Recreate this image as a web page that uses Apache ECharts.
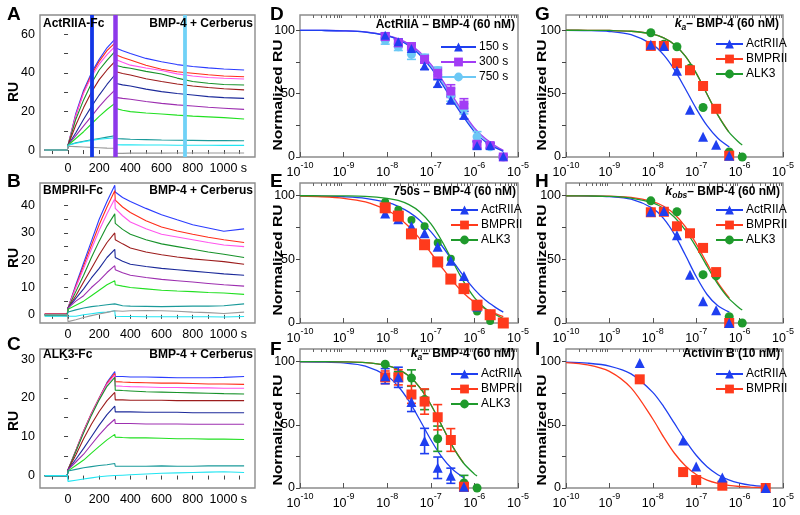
<!DOCTYPE html>
<html><head><meta charset="utf-8">
<script src="https://cdn.jsdelivr.net/npm/echarts@6/dist/echarts.min.js"></script>
<style>html,body{margin:0;padding:0;background:#fff}#c{width:800px;height:515px}</style>
</head><body><div id="c"></div>
<script>
// ================= DATA =================
// Sensorgrams (panels A-C): time (s) and RU per analyte concentration trace
const sensTimes = [-150, -5, 0, 50, 100, 150, 200, 250, 300, 303, 350, 400, 500, 600, 700, 800, 900, 1000, 1130];
const sensColors = ['#2b3cff', '#ff2d1a', '#ff55ee', '#17922a', '#9c1c1c', '#1c2a9a', '#9d2fb0', '#22e022', '#1b9a9a', '#22e5f2', '#9a9a9a'];
const sensA = [
  [0, 0, 2.5, 19, 31, 40, 47, 53, 57.4, 53, 51.5, 50, 47.5, 45.8, 44.3, 43.3, 42.6, 42, 41.5],
  [0, 0, 2.5, 18, 30, 39, 46, 51.5, 55.4, 49.5, 48, 46.7, 44, 41.9, 40.6, 39.8, 39, 38.4, 38],
  [0, 0, 2.5, 18, 29.5, 38, 44.5, 49.5, 53.6, 47, 45.5, 44, 42.5, 41.2, 39.5, 38.4, 37.6, 37.2, 36.8],
  [0, 0, 2.5, 16, 26, 34.5, 41.5, 46.5, 51, 44, 43, 42.4, 40.8, 39.4, 37.3, 35.5, 34.6, 34, 33.7],
  [0, 0, 2.5, 13, 22, 30, 36.5, 41.5, 45.8, 40.7, 39.7, 38.9, 37, 35.5, 34.2, 33.2, 32.4, 31.8, 31.2],
  [0, 0, 2.5, 9, 16, 22.5, 28.5, 34, 38.9, 34.6, 33.8, 33.2, 31.6, 30.3, 29.3, 28.5, 27.7, 27.2, 26.8],
  [0, 0, 2.5, 7.5, 12.5, 17.5, 22.5, 27, 31.1, 27.3, 26.8, 26.3, 25.2, 24.2, 23.4, 22.8, 22.2, 21.7, 21.1],
  [0, 0, 2.5, 6, 9.5, 13.5, 17.5, 21, 24.2, 21.6, 20.6, 19.9, 19.2, 18.7, 18.1, 17.6, 17.2, 16.8, 16.1],
  [0, 0, 2.5, 3.8, 4.6, 5.3, 6, 6.7, 7.4, 6, 5.8, 5.6, 5.4, 5.2, 5.1, 5, 4.9, 4.9, 4.8],
  [0, 0, 2.5, 3.5, 4.3, 5, 5.6, 6, 6.4, 2.8, 2.7, 2.7, 2.6, 2.6, 2.5, 2.5, 2.5, 2.4, 2.4],
  [0, 0, 2, 1.8, 1.6, 1.4, 1.2, 1, 0.9, -1.7, -1.7, -1.6, -1.6, -1.6, -1.5, -1.5, -1.5, -1.5, -1.5]
];
const sensB = [
  [0, -0.3, 2.5, 11, 19, 27, 35, 41.5, 47.5, 45, 43, 41.5, 39, 36.7, 34.8, 33, 31.8, 30.6, 31.5],
  [0.3, 0.3, 2.5, 10.5, 18, 25.5, 33, 39.5, 45.5, 42, 39.5, 37.5, 34.5, 32.2, 30.7, 29.5, 28.4, 27.5, 26.5],
  [0.3, 0.3, 2.5, 10, 17, 24, 31, 37, 42.5, 39, 36.3, 34, 31.5, 29.5, 28.5, 27.5, 26.5, 25.6, 25],
  [-0.3, -0.3, 2.5, 8.5, 14.5, 21, 27, 32.5, 37, 33.5, 31.3, 29.5, 27.5, 26, 25, 24, 23, 22.2, 21],
  [0.3, 0.3, 2.5, 7, 12, 17, 22, 26.5, 30, 27.5, 26, 24.5, 23, 22, 21.2, 20.5, 20, 19.5, 18.5],
  [0, 0, 2.5, 6, 9.5, 13.5, 17, 21, 24, 21, 19.6, 18.5, 17.7, 17, 16.5, 16, 15.5, 15, 14.5],
  [0, 0, 2.5, 5, 7, 10, 12.5, 15.5, 18, 16.5, 15.4, 14.5, 13.7, 13, 12.5, 12, 11.5, 11, 10.5],
  [0, 0, 2, 3.5, 5, 7, 9, 11, 12.5, 11, 10.5, 10, 9.5, 9, 8.7, 8.5, 8.2, 8, 7.5],
  [0, 0, 1, 1.8, 2.5, 3, 3.3, 3.7, 4, 3.5, 3.3, 3.2, 3.1, 3, 3.1, 3.2, 3.2, 3.3, 4],
  [-0.5, -0.5, -1, -0.5, 0, 0.4, 0.8, 1, 1.5, -0.5, -0.6, -0.6, -0.7, -0.7, -0.7, -0.7, -0.7, -0.8, -0.6],
  [0, 0, -2.5, -1.8, -1, -0.3, 0.3, 0.9, 1.5, 1.2, 1.3, 1.5, 1.6, 1.5, 1.3, 1, 0.8, 0.5, 1]
];
const sensC = [
  [0, 0, 1.5, 6.5, 11.5, 16, 20, 24, 26.8, 25.5, 25.5, 25.4, 25.4, 25.3, 25.2, 25.2, 25.2, 25.3, 25.5],
  [0, 0, 1.5, 6.5, 11.5, 16, 20, 23.8, 26.3, 24.2, 24.1, 24, 23.9, 23.8, 23.8, 23.7, 23.6, 23.6, 23.5],
  [0, 0, 1.5, 6.3, 11.3, 15.8, 19.8, 23.5, 25.9, 23.1, 23, 22.9, 22.8, 22.7, 22.7, 22.6, 22.6, 22.5, 22.5],
  [0, 0, 1.5, 6.2, 11, 15.5, 19.5, 23, 25.3, 22, 21.9, 21.8, 21.6, 21.5, 21.4, 21.3, 21.2, 21.1, 21],
  [0, 0, 1.5, 5.3, 9.5, 13.2, 16.5, 19.3, 21.4, 19.5, 19.5, 19.4, 19.4, 19.4, 19.3, 19.3, 19.3, 19.3, 19.3],
  [0, 0, 1.5, 4.2, 7, 10, 13, 15.7, 17.9, 16.4, 16.4, 16.4, 16.3, 16.3, 16.3, 16.2, 16.2, 16.2, 16.2],
  [0, 0, 1.5, 3.5, 5.5, 8, 10.5, 12.7, 14.5, 13.4, 13.4, 13.4, 13.3, 13.3, 13.3, 13.2, 13.2, 13.2, 13.2],
  [0, 0, 1.2, 2.6, 4, 5.8, 7.5, 9.2, 10.6, 9.9, 9.8, 9.7, 9.7, 9.6, 9.5, 9.5, 9.4, 9.4, 9.3],
  [0, 0, 1.2, 1.6, 2, 2.3, 2.6, 2.8, 3.1, 2.4, 2.4, 2.4, 2.4, 2.5, 2.4, 2.4, 2.5, 2.5, 2.5],
  [0, 0, -1.5, -1.2, -0.9, -0.6, -0.3, -0.1, 0, -0.2, 0.1, 0.2, 0.4, 0.6, 0.7, 0.8, 0.9, 1, 0.8]
];
const markTimesA = [150, 300, 750];
const markColorsA = ['#1236e6', '#8d38ea', '#70d2f7'];

// Dose-response (panels D-I): concentrations (M) and normalized RU
const concD = [9e-9, 1.8e-8, 3.6e-8, 7.2e-8, 1.44e-7, 2.88e-7, 5.76e-7, 1.15e-6, 2.3e-6, 4.6e-6];
const D150 = [96, 91, 85.5, 72, 58, 45, 33, 9, 9, 0.5];
const D150err = [2, 2, 3, 3, 3, 3, 3, 3, 2, 1];
const D300 = [95, 90, 87, 77, 66, 52, 41, 10, 9, 0];
const D300err = [2, 3, 3, 3, 4, 5, 5, 3, 2, 1];
const D750 = [92, 87, 81, 78, 68, 49, 38, 16, 8, 0];
const D750err = [3, 3, 4, 3, 3, 5, 4, 4, 2, 1];
const E_act = [86, 81.5, 76, 70.5, 60, 49, 37, 13, 7, 0];
const E_bmp = [90.5, 84, 70, 61.5, 48, 34.5, 27, 14, 6.5, 0];
const E_alk = [95, 89, 81, 76, 63, 50.5, 27, 9, 1.5, 0];
const concFG = [9e-9, 1.8e-8, 3.6e-8, 7.2e-8, 1.44e-7, 2.88e-7, 5.76e-7, 1.15e-6];
const FG_act = [88.5, 87.6, 68, 37.2, 16, 9.7, 1, null];
const FG_actErr = [6, 8, 7.5, 10, 8.5, 6, 2, 0];
const FG_bmp = [87.6, 87.6, 74, 68.4, 56, 38, 1, null];
const FG_bmpErr = [5, 6, 7, 10, 10, 9, 3, 0];
const FG_alk = [98, 89, 87, 70, 39, null, 4, 0];
const FG_alkErr = [0, 3, 6.5, 8, 10, 0, 6, 0];
const H_act = [87.4, 88, 69, 38, 17, 10, 0, null];
const H_bmp = [87, 87.4, 76, 70.5, 59, 40, 0, null];
const H_alk = [96, null, 87.4, null, 38, 37, 5, 0];
const concI = [5e-9, 5e-8, 1e-7, 4e-7, 4e-6];
const I_act = [99, 37.6, 17, 8.4, 0];
const I_bmp = [86, 12.6, 6.3, 1.8, 0];

// Fitted curves, at these concentrations (+ a last end point)
const fitConc = [1e-10, 3.16e-10, 1e-9, 3.16e-9, 1e-8, 1.78e-8, 3.16e-8, 5.62e-8, 1e-7, 1.78e-7, 3.16e-7, 5.62e-7, 1e-6, 1.78e-6, 3.16e-6];
const fitD150 = [99.9, 99.8, 99.5, 98.5, 95.5, 92.5, 87.7, 80.5, 70.5, 58, 44.4, 31.6, 20, 12, 7];
const fitD300 = [99.95, 99.8, 99.55, 98.7, 96, 93.3, 89, 82.6, 73.2, 61.4, 48, 34.9, 23, 14.5, 8.5];
const fitD750 = [99.9, 99.8, 99.5, 98.6, 95.8, 93, 88.4, 81.6, 72, 59.8, 46.3, 33.3, 22, 13.5, 7.8];
const fitDEnd = [[4.6e-6, 4.5], [4.6e-6, 5.2], [4.6e-6, 4.8]];
const fitE_act = [99.9, 99.7, 99.2, 98, 94.7, 91.7, 87.1, 80.6, 71.8, 60.9, 48.9, 37, 26.4, 18, 11.9];
const fitE_bmp = [99.7, 99.2, 98, 95.1, 88.6, 83.1, 75.6, 66.1, 55.2, 43.8, 32.9, 23.6, 16.3, 11, 7.2];
const fitE_alk = [100, 99.96, 99.86, 99.5, 98, 96.3, 93, 87.3, 78, 64.6, 48.5, 32.7, 20, 11.4, 6.3];
const fitEEnd = [[4.6e-6, 8.5], [4.6e-6, 5], [4.6e-6, 3.5]];
const fitFG_act = [99.9, 99.7, 99, 96.5, 88.6, 80.5, 68.7, 53.8, 38.2, 24.7, 14.8];
const fitFG_actEnd = [5.8e-7, 7.9];
const fitFG_bmp = [99.99, 99.95, 99.8, 99.2, 96.9, 93.9, 88.6, 79.5, 66.1, 49.5, 33, 19.8];
const fitFG_alk = [99.99, 99.95, 99.8, 99.2, 96.9, 93.9, 88.6, 79.5, 66.1, 49.5, 33, 19.8, 11];
const fitFG_alkEnd = [1.15e-6, 9.5];
const fitH_act = [99.96, 99.8, 99.3, 97.3, 90.1, 82, 69.6, 53.4, 36.5, 22.4, 13.5];
const fitH_actEnd = [5.8e-7, 8.5];
const fitH_bmp = [99.97, 99.9, 99.6, 98.7, 95.4, 91.7, 85.5, 75.8, 62.4, 46.8, 31.8];
const fitH_bmpEnd = [5.8e-7, 19.5];
const fitH_alk = [99.95, 99.84, 99.5, 98.2, 94.3, 90, 83.1, 72.9, 59.6, 44.6, 30.5, 19.3, 11.6];
const fitH_alkEnd = [1.15e-6, 10.2];
const fitI_act = [99.6, 98.8, 96.5, 90.3, 75.7, 64.4, 51.1, 37.7, 25.9, 16.8, 10.5, 6.4, 3.8, 2.2];
const fitI_bmp = [99.2, 97.4, 92.3, 79.2, 54.6, 40.3, 27.5, 17.6, 10.7, 6.3, 3.7, 2.1, 1.2, 0.7];
const fitIEnd = [[4e-6, 1.0], [4e-6, 0.3]];

const logTickLabels = [-10, -9, -8, -7, -6, -5];

// ================= BUILD =================
const FONT = '"Liberation Sans", Arial, Helvetica, sans-serif';
const BLUE = '#1f3ff0', RED = '#ff3a1c', GREEN = '#1f9a2c', PURPLE = '#a23cf5', LBLUE = '#6cc8f5';
const grids = [
  {left: 40, top: 15, width: 215, height: 142},
  {left: 40, top: 183, width: 215, height: 140},
  {left: 40, top: 349, width: 215, height: 139},
  {left: 300, top: 15, width: 218, height: 142},
  {left: 300, top: 183, width: 218, height: 140},
  {left: 300, top: 349, width: 218, height: 139},
  {left: 566, top: 15, width: 217, height: 142},
  {left: 566, top: 183, width: 217, height: 140},
  {left: 566, top: 349, width: 217, height: 139}
].map(g => Object.assign({show: true, borderColor: '#8c8c8c', borderWidth: 1.4, backgroundColor: 'transparent'}, g));

const L10 = Math.log10;
const minorVals = [];
for (let n = -10; n < -5; n++) for (let k = 2; k <= 9; k++) minorVals.push(n + L10(k));

const xAxes = [], yAxes = [];
const sensRanges = [[-3.6, 70, [0,10,20,30,40,50,60], [0,20,40,60]], [-3, 48.3, [0,5,10,15,20,25,30,35,40,45], [0,10,20,30,40]], [-3.2, 32.6, [0,5,10,15,20,25,30], [0,10,20,30]]];
for (let i = 0; i < 3; i++) {
  xAxes.push({gridIndex: i, type: 'value', min: -180, max: 1200,
    axisLine: {show: false}, splitLine: {show: false},
    axisTick: {show: true, length: 4, customValues: [-100,0,100,200,300,400,500,600,700,800,900,1000,1100], lineStyle: {color: '#444'}},
    axisLabel: {customValues: [0,200,400,600,800,1000], margin: 5, color: '#000', fontSize: 12.5, fontFamily: FONT,
      formatter: v => v === 1000 ? '{e|1000 s}' : String(v), rich: {e: {fontSize: 12.5, fontFamily: FONT, color: '#000', padding: [0,0,0,9]}}}});
  const r = sensRanges[i];
  yAxes.push({gridIndex: i, type: 'value', min: r[0], max: r[1],
    axisLine: {show: false}, splitLine: {show: false},
    axisTick: {show: true, length: 4, customValues: r[2], lineStyle: {color: '#444'}},
    axisLabel: {customValues: r[3], margin: 5, color: '#000', fontSize: 12.5, fontFamily: FONT}});
}
const doseMax = [112, 110, 110, 112, 110, 110];
for (let j = 0; j < 6; j++) {
  const gi = 3 + j;
  xAxes.push({gridIndex: gi, type: 'value', min: -10, max: -5,
    axisLine: {show: false}, splitLine: {show: false},
    axisTick: {show: true, inside: true, length: 5, customValues: logTickLabels, lineStyle: {color: '#555'}},
    axisLabel: {customValues: logTickLabels, margin: 4, color: '#000', fontFamily: FONT,
      formatter: v => '{b|10}{s|' + v + '}',
      rich: {b: {fontSize: 12.5, lineHeight: 18, verticalAlign: 'bottom', fontFamily: FONT, color: '#000'},
             s: {fontSize: 9, lineHeight: 10, verticalAlign: 'top', fontFamily: FONT, color: '#000'}}}});
  yAxes.push({gridIndex: gi, type: 'value', min: 0, max: doseMax[j],
    axisLine: {show: false}, splitLine: {show: false},
    axisTick: {show: true, length: 4, customValues: [0,25,50,75,100], lineStyle: {color: '#444'}},
    axisLabel: {customValues: [0,50,100], margin: 5, color: '#000', fontSize: 12.5, fontFamily: FONT}});
}
for (let j = 0; j < 6; j++) {
  xAxes.push({gridIndex: 3 + j, type: 'value', min: -10, max: -5,
    axisLine: {show: false}, splitLine: {show: false}, axisLabel: {show: false},
    axisTick: {show: true, inside: true, length: 3, customValues: minorVals, lineStyle: {color: '#666'}}});
}

const series = [];
function sensSeries(gi, data) {
  data.forEach((vals, k) => {
    series.push({type: 'line', xAxisIndex: gi, yAxisIndex: gi, showSymbol: false, symbol: 'none', silent: true,
      lineStyle: {width: 1.1, color: sensColors[k]}, data: sensTimes.map((t, i) => [t, vals[i]])});
  });
}
sensSeries(0, sensA); sensSeries(1, sensB); sensSeries(2, sensC);
series[sensA.length - 1].markLine = {
  silent: true, symbol: ['none', 'none'], label: {show: false},
  data: markTimesA.map((t, i) => ({xAxis: t, lineStyle: {color: markColorsA[i], width: i === 1 ? 4.5 : 3.8, type: 'solid', opacity: 1}}))
};

function fitPts(ys, end) {
  const out = ys.map((y, i) => [L10(fitConc[i]), y]);
  if (end) out.push([L10(end[0]), end[1]]);
  return out;
}
function ptsOf(conc, vals) {
  const out = [];
  conc.forEach((c, i) => { if (vals[i] != null) out.push([L10(c), vals[i]]); });
  return out;
}
function addCurve(j, name, color, symbol, ys, end, width) {
  series.push({type: 'line', name: name, xAxisIndex: 3 + j, yAxisIndex: 3 + j, showSymbol: false, symbol: symbol, smooth: 0.3,
    itemStyle: {color: color}, lineStyle: {width: width || 1.3, color: color}, silent: true, data: fitPts(ys, end), z: 3});
}
function addPts(j, color, symbol, size, conc, vals) {
  series.push({type: 'scatter', xAxisIndex: 3 + j, yAxisIndex: 3 + j, symbol: symbol, symbolSize: size, silent: true,
    itemStyle: {color: color, opacity: 1}, data: ptsOf(conc, vals), z: 5});
}
function addErr(j, color, conc, vals, errs) {
  const d = [];
  conc.forEach((c, i) => { if (vals[i] != null && errs[i] > 0) d.push([L10(c), vals[i] - errs[i], vals[i] + errs[i]]); });
  series.push({type: 'custom', xAxisIndex: 3 + j, yAxisIndex: 3 + j, silent: true, z: 4, data: d,
    encode: {x: 0, y: [1, 2]},
    renderItem: (params, api) => {
      const x = api.value(0);
      const p1 = api.coord([x, api.value(1)]), p2 = api.coord([x, api.value(2)]);
      const w = 4.5, st = {stroke: color, lineWidth: 1.6};
      return {type: 'group', children: [
        {type: 'line', shape: {x1: p1[0], y1: p1[1], x2: p2[0], y2: p2[1]}, style: st},
        {type: 'line', shape: {x1: p1[0] - w, y1: p1[1], x2: p1[0] + w, y2: p1[1]}, style: st},
        {type: 'line', shape: {x1: p2[0] - w, y1: p2[1], x2: p2[0] + w, y2: p2[1]}, style: st}
      ]};
    }});
}
// E first so the legend picks up the proper ActRIIA/BMPRII/ALK3 styling
addCurve(1, 'ActRIIA', BLUE, 'triangle', fitE_act, fitEEnd[0]);
addCurve(1, 'BMPRII', RED, 'rect', fitE_bmp, fitEEnd[1]);
addCurve(1, 'ALK3', GREEN, 'circle', fitE_alk, fitEEnd[2]);
addPts(1, GREEN, 'circle', 8, concD, E_alk);
addPts(1, BLUE, 'triangle', 10, concD, E_act);
addPts(1, RED, 'rect', 11, concD, E_bmp);
// D
addCurve(0, '750 s', LBLUE, 'circle', fitD750, fitDEnd[2]);
addCurve(0, '300 s', PURPLE, 'rect', fitD300, fitDEnd[1]);
addCurve(0, '150 s', BLUE, 'triangle', fitD150, fitDEnd[0]);
addErr(0, LBLUE, concD, D750, D750err);
addPts(0, LBLUE, 'circle', 9, concD, D750);
addErr(0, PURPLE, concD, D300, D300err);
addPts(0, PURPLE, 'rect', 9, concD, D300);
addErr(0, BLUE, concD, D150, D150err);
addPts(0, BLUE, 'triangle', 9, concD, D150);
// F (with error bars) and G (same data, no bars)
[2, 3].forEach(j => {
  addCurve(j, 'ActRIIA', BLUE, 'triangle', fitFG_act, fitFG_actEnd);
  addCurve(j, 'BMPRII', RED, 'rect', fitFG_bmp, null);
  addCurve(j, 'ALK3', GREEN, 'circle', fitFG_alk, fitFG_alkEnd);
  if (j === 2) {
    addErr(j, GREEN, concFG, FG_alk, FG_alkErr);
    addErr(j, RED, concFG, FG_bmp, FG_bmpErr);
    addErr(j, BLUE, concFG, FG_act, FG_actErr);
  }
  addPts(j, GREEN, 'circle', 9, concFG, FG_alk);
  addPts(j, RED, 'rect', 10, concFG, FG_bmp);
  addPts(j, BLUE, 'triangle', 10, concFG, FG_act);
});
// H
addCurve(4, 'ActRIIA', BLUE, 'triangle', fitH_act, fitH_actEnd);
addCurve(4, 'BMPRII', RED, 'rect', fitH_bmp, fitH_bmpEnd);
addCurve(4, 'ALK3', GREEN, 'circle', fitH_alk, fitH_alkEnd);
addPts(4, GREEN, 'circle', 9, concFG, H_alk);
addPts(4, RED, 'rect', 10, concFG, H_bmp);
addPts(4, BLUE, 'triangle', 10, concFG, H_act);
// I
addCurve(5, 'ActRIIA', BLUE, 'triangle', fitI_act, fitIEnd[0]);
addCurve(5, 'BMPRII', RED, 'rect', fitI_bmp, fitIEnd[1]);
addPts(5, RED, 'rect', 10, concI, I_bmp);
addPts(5, BLUE, 'triangle', 10, concI, I_act);

// ---- titles ----
const tstyle = {fontSize: 12, fontWeight: 'bold', fontFamily: FONT, color: '#000'};
const kRich = {
  k: {fontSize: 12.5, fontWeight: 'bold', fontStyle: 'italic', fontFamily: FONT, color: '#000', lineHeight: 16},
  sub: {fontSize: 8.5, fontWeight: 'bold', fontStyle: 'italic', fontFamily: FONT, color: '#000', lineHeight: 9, verticalAlign: 'bottom'},
  t: {fontSize: 12, fontWeight: 'bold', fontFamily: FONT, color: '#000', lineHeight: 16}
};
const titles = [];
function T(text, pos, style) { titles.push(Object.assign({text: text, padding: 0, textStyle: style || tstyle}, pos)); }
const letterStyle = {fontSize: 19, fontWeight: 'bold', fontFamily: FONT, color: '#000'};
[['A', 7, 5], ['B', 7, 172], ['C', 7, 335], ['D', 270, 5], ['E', 270, 172], ['F', 270, 340], ['G', 535, 5], ['H', 535, 172], ['I', 535, 340]]
  .forEach(a => T(a[0], {left: a[1], top: a[2]}, letterStyle));
T('ActRIIA-Fc', {left: 43, top: 18});
T('BMPRII-Fc', {left: 43, top: 185});
T('ALK3-Fc', {left: 43, top: 349});
T('BMP-4 + Cerberus', {right: 547, top: 18});
T('BMP-4 + Cerberus', {right: 547, top: 185});
T('BMP-4 + Cerberus', {right: 547, top: 349});
T('ActRIIA – BMP-4 (60 nM)', {right: 285, top: 19});
T('750s – BMP-4 (60 nM)', {right: 284, top: 186});
T('{k|k}{sub|a}{t|– BMP-4 (60 nM)}', {right: 285, top: 346}, {rich: kRich});
T('{k|k}{sub|a}{t|– BMP-4 (60 nM)}', {right: 21, top: 16}, {rich: kRich});
T('{k|k}{sub|obs}{t|– BMP-4 (60 nM)}', {right: 20, top: 184}, {rich: kRich});
T('Activin B (10 nM)', {right: 20, top: 348});

// ---- rotated axis names (graphic text) ----
const graphics = [];
function VT(text, x, y, size, sx) {
  graphics.push({type: 'text', x: x, y: y, rotation: Math.PI / 2, scaleX: sx || 1, scaleY: 1, silent: true,
    style: {text: text, x: 0, y: 0, fill: '#000', font: 'bold ' + size + 'px ' + FONT,
      textAlign: 'center', textVerticalAlign: 'middle', align: 'center', verticalAlign: 'middle'}});
}
[[92], [258], [421]].forEach(p => VT('RU', 14, p[0], 14, 1));
[[278, 95], [278, 260], [278, 430], [542.5, 95], [542.5, 260], [542.5, 430]].forEach(p => VT('Normalized RU', p[0], p[1], 13, 1.2));

// ---- legends ----
function LG(names, left, top, iw) {
  return {data: names, orient: 'vertical', left: left, top: top, itemWidth: iw || 27, itemHeight: 11, itemGap: 3, padding: 0,
    selectedMode: false, textStyle: {fontSize: 12, fontFamily: FONT, color: '#000', padding: [0, 0, 0, -2]},
    lineStyle: {width: 2}};
}
const legends = [
  LG(['150 s', '300 s', '750 s'], 440, 41, 35),
  LG(['ActRIIA', 'BMPRII', 'ALK3'], 450, 204),
  LG(['ActRIIA', 'BMPRII', 'ALK3'], 450, 368),
  LG(['ActRIIA', 'BMPRII', 'ALK3'], 715, 38),
  LG(['ActRIIA', 'BMPRII', 'ALK3'], 715, 204),
  LG(['ActRIIA', 'BMPRII'], 715, 368)
];

const chart = echarts.init(document.getElementById('c'), null, {renderer: 'canvas', width: 800, height: 515});
chart.setOption({
  animation: false,
  backgroundColor: '#fff',
  textStyle: {fontFamily: FONT},
  title: titles,
  legend: legends,
  grid: grids,
  xAxis: xAxes,
  yAxis: yAxes,
  graphic: graphics,
  series: series
});
</script>
</body></html>
